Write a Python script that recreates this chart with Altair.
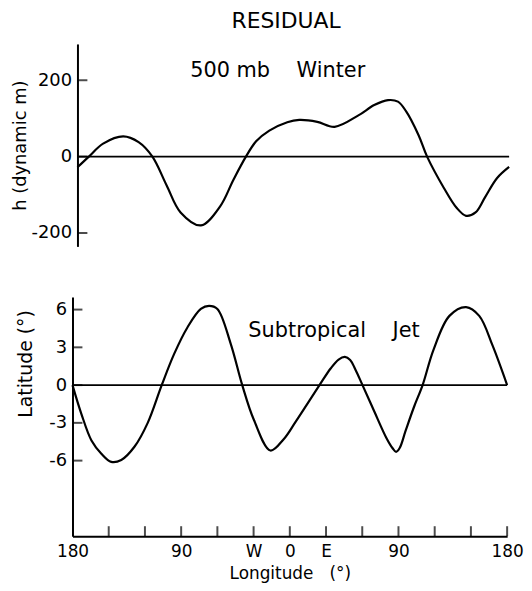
import altair as alt
import pandas as pd

# ---------------- data ----------------
lon_domain = [-180, 180]
h_domain = [-235, 295]
lat_domain = [-12, 7]

# 500 mb winter residual height (dynamic m)
h_lon = [-180, -170.5, -158.6, -141.8, -129, -117.5, -105.5, -94, -77, -61, -50,
         -39.5, -31, -20, -5, 5, 20, 34.5, 54.3, 67.5, 79, 87.3, 94, 104.5, 111.6,
         125.6, 136.2, 144.1, 152, 160, 170, 180]
h_val = [-28, 0, 34, 53, 38, 0, -76, -146, -180, -130, -61,
         0, 40, 68, 90, 96, 91, 78, 108, 135, 148, 144, 119, 56, 0,
         -82, -134, -155, -146, -106, -56, -27]

# Subtropical jet latitude residual (deg)
jet_lon = [-180, -172.6, -164.3, -156.1, -147.9, -139.6, -128.7, -117.7, -106.1, -95.7,
           -84.7, -73.7, -66.9, -60, -49, -39.4, -29.8, -16.1, -5.1, 4.9, 24.6,
           33.8, 40.4, 45.6, 50, 54, 60.2, 70, 80, 85, 88, 91, 96, 103, 110,
           119, 132.2, 146, 156.9, 167.9, 180]
jet_lat = [0, -2.3, -4.4, -5.45, -6.1, -5.95, -4.9, -3.0, 0, 2.5,
           4.6, 6.05, 6.3, 6.05, 3.3, 0, -2.75, -5.2, -4.3, -2.9, 0,
           1.32, 2.03, 2.24, 2.0, 1.3, 0, -2.1, -4.2, -5.0, -5.3, -5.0, -3.6, -1.7, 0,
           2.8, 5.5, 6.2, 5.5, 3.15, 0]

h_ticks = [-200, 0, 200]
h_tick_labels = ["-200", "0", "200"]
lat_ticks = [-6, -3, 0, 3, 6]
lat_tick_labels = ["-6", "-3", "0", "3", "6"]
lon_tick_marks = [-150, -120, -90, -60, -30, 0, 30, 60, 90, 120, 150, 180]
lon_label_values = [-180, -90, -30, 0, 30, 90, 180]
lon_labels = ["180", "90", "W", "0", "E", "90", "180"]

NB = "\u00a0"
top_note = ["500 mb" + NB * 4 + "Winter"]
top_note_lon = [-13]
top_note_val = [224]
bot_note = ["Subtropical" + NB * 4 + "Jet"]
bot_note_lon = [36.6]
bot_note_val = [4.3]

FONT = "DejaVu Sans"


def label_expr(values, labels):
    expr = "''"
    for v, l in reversed(list(zip(values, labels))):
        expr = f"datum.value == {v} ? '{l}' : ({expr})"
    return expr


# ---------------- top panel ----------------
x_top = alt.X("lon:Q", scale=alt.Scale(domain=lon_domain, nice=False, zero=False, range=[5, 440]),
              axis=None)
y_top = alt.Y(
    "val:Q",
    scale=alt.Scale(domain=h_domain, nice=False, zero=False),
    axis=alt.Axis(
        values=h_ticks, labelExpr=label_expr(h_ticks, h_tick_labels), ticks=False, tickSize=0,
        grid=False, domainColor="black", domainWidth=2, labelFont=FONT, labelFontSize=18,
        labelColor="black", labelPadding=6, title="h (dynamic m)", titleFont=FONT,
        titleFontSize=18, titleFontWeight="normal", titleColor="black", titlePadding=2,
        labelOverlap=False, offset=-5,
    ),
)

top_curve = alt.Chart(pd.DataFrame({"lon": h_lon, "val": h_val})).mark_line(
    color="black", strokeWidth=2.2, interpolate="catmull-rom"
).encode(x=x_top, y=y_top)
top_zero = alt.Chart(pd.DataFrame({"lon": [lon_domain[0]], "lon2": [lon_domain[1]], "val": [0]})).mark_rule(
    color="black", strokeWidth=1.8
).encode(x=x_top, x2="lon2:Q", y=y_top)
top_ticks = alt.Chart(pd.DataFrame({"lon": [lon_domain[0]] * len(h_ticks), "val": h_ticks})).mark_tick(
    orient="horizontal", size=10, thickness=2, color="black", xOffset=5
).encode(x=x_top, y=y_top)
top_text = alt.Chart(pd.DataFrame({"lon": top_note_lon, "val": top_note_val, "label": top_note})).mark_text(
    font=FONT, fontSize=21, color="black", align="center", baseline="middle"
).encode(x=x_top, y=y_top, text="label:N")

top = alt.layer(top_zero, top_curve, top_ticks, top_text).properties(
    width=437, height=204, view=alt.ViewBackground(stroke="transparent", strokeWidth=0)
)

# ---------------- bottom panel ----------------
x_bot = alt.X(
    "lon:Q",
    scale=alt.Scale(domain=lon_domain, nice=False, zero=False),
    axis=alt.Axis(
        values=lon_label_values, labelExpr=label_expr(lon_label_values, lon_labels), ticks=False,
        tickSize=0, grid=False, domainColor="black", domainWidth=2, labelFont=FONT,
        labelFontSize=17, labelColor="black", labelPadding=8, labelFlush=False, labelOverlap=False,
        title="Longitude" + NB * 3 + "(°)", titleFont=FONT, titleFontSize=17,
        titleFontWeight="normal", titleColor="black", titlePadding=6,
    ),
)
y_bot = alt.Y(
    "val:Q",
    scale=alt.Scale(domain=lat_domain, nice=False, zero=False),
    axis=alt.Axis(
        values=lat_ticks, labelExpr=label_expr(lat_ticks, lat_tick_labels), ticks=False, tickSize=0,
        grid=False, domainColor="black", domainWidth=2, labelFont=FONT, labelFontSize=18,
        labelColor="black", labelPadding=6, title="Latitude (°)", titleFont=FONT,
        titleFontSize=19, titleFontWeight="normal", titleColor="black", titlePadding=13,
        titleY=67, labelOverlap=False,
    ),
)

bot_curve = alt.Chart(pd.DataFrame({"lon": jet_lon, "val": jet_lat})).mark_line(
    color="black", strokeWidth=2.2, interpolate="catmull-rom"
).encode(x=x_bot, y=y_bot)
bot_zero = alt.Chart(pd.DataFrame({"val": [0]})).mark_rule(color="black", strokeWidth=1.8).encode(y=y_bot)
bot_yticks = alt.Chart(pd.DataFrame({"lon": [lon_domain[0]] * len(lat_ticks), "val": lat_ticks})).mark_tick(
    orient="horizontal", size=10, thickness=2, color="black", xOffset=5
).encode(x=x_bot, y=y_bot)
bot_xticks = alt.Chart(pd.DataFrame({"lon": lon_tick_marks, "val": [lat_domain[0]] * len(lon_tick_marks)})).mark_tick(
    orient="vertical", size=10, thickness=2, color="black", yOffset=-5
).encode(x=x_bot, y=y_bot)
bot_text = alt.Chart(pd.DataFrame({"lon": bot_note_lon, "val": bot_note_val, "label": bot_note})).mark_text(
    font=FONT, fontSize=21, color="black", align="center", baseline="middle"
).encode(x=x_bot, y=y_bot, text="label:N")

bottom = alt.layer(bot_zero, bot_curve, bot_yticks, bot_xticks, bot_text).properties(
    width=438, height=241, view=alt.ViewBackground(stroke="transparent", strokeWidth=0)
)

chart = alt.vconcat(top, bottom, spacing=51).properties(
    title=alt.TitleParams("RESIDUAL", font=FONT, fontSize=22, fontWeight="normal", color="black",
                          anchor="middle", offset=3, dx=19, dy=-8),
    padding={"left": 3, "top": 0, "right": 0, "bottom": 0},
    background="white",
).configure_view(strokeWidth=0, stroke="transparent")

chart.save("out.html", embed_options={"renderer": "svg", "actions": False})
